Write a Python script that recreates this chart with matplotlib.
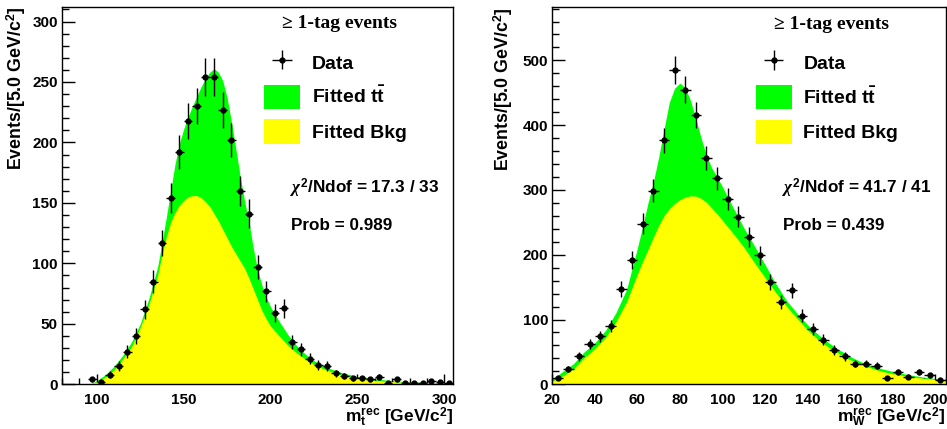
import numpy as np
import matplotlib
matplotlib.use("Agg")
import matplotlib.pyplot as plt
from matplotlib.patches import Patch
from matplotlib.ticker import MultipleLocator

plt.rcParams["font.family"] = ["Liberation Sans", "DejaVu Sans"]
plt.rcParams["font.weight"] = "bold"
plt.rcParams["mathtext.fontset"] = "custom"
plt.rcParams["mathtext.rm"] = "Liberation Sans:bold"
plt.rcParams["mathtext.bf"] = "Liberation Sans:bold"
plt.rcParams["mathtext.it"] = "Liberation Serif:italic"

# ---- top mass panel ----
mt_centers = [97.5, 102.5, 107.5, 112.5, 117.5, 122.5, 127.5, 132.5, 137.5, 142.5,
              147.5, 152.5, 157.5, 162.5, 167.5, 172.5, 177.5, 182.5, 187.5, 192.5,
              197.5, 202.5, 207.5, 212.5, 217.5, 222.5, 227.5, 232.5, 237.5, 242.5,
              247.5, 252.5, 257.5, 262.5, 267.5, 272.5, 277.5, 282.5, 287.5, 292.5,
              297.5, 302.5]
mt_counts = [4, 2, 8, 15, 27, 40, 62, 85, 117, 154,
             192, 218, 230, 254, 254, 227, 202, 160, 141, 97,
             77, 59, 63, 35, 29, 21, 16, 15, 9, 7,
             5, 5, 4, 6, 1, 4, 1, 1, 1, 3,
             2, 1]
mt_curve_x = [95, 97.5, 100, 105, 110, 115, 120, 125, 130, 135, 137.5, 140, 142.5,
              145, 147.5, 150, 152.5, 155, 157.5, 160, 162.5, 165, 167.5, 170,
              172.5, 175, 177.5, 180, 182.5, 185, 187.5, 190, 192.5, 195, 197.5,
              200, 205, 210, 215, 220, 225, 230, 235, 240, 250, 260, 270, 280,
              290, 305]
mt_total = [0, 1, 3, 8, 15, 24, 35, 50, 71, 97, 117, 138, 160,
            182, 199, 211, 221, 230, 238, 246, 253, 258, 261, 258,
            251, 237, 217, 195, 172, 152, 135, 113, 95, 82, 72,
            64, 52, 41, 32, 25, 19.5, 15.5, 12.5, 10, 6.5, 4.5, 3, 2,
            1.5, 1]
mt_bkg = [0, 1, 2, 6, 12, 21, 31, 47, 66, 90, 107, 122, 134,
          142, 148, 152, 155, 156, 156, 154.5, 151, 147, 141, 135,
          128, 121, 114, 108, 102, 96, 88, 79, 70, 61, 54,
          48, 40, 32, 26, 21, 16.5, 13, 10.5, 8, 5, 3.2, 2.2, 1.6,
          1.2, 0.8]

# ---- W mass panel ----
mw_centers = [22.5, 27.5, 32.5, 37.5, 42.5, 47.5, 52.5, 57.5, 62.5, 67.5,
              72.5, 77.5, 82.5, 87.5, 92.5, 97.5, 102.5, 107.5, 112.5, 117.5,
              122.5, 127.5, 132.5, 137.5, 142.5, 147.5, 152.5, 157.5, 162.5, 167.5,
              172.5, 177.5, 182.5, 187.5, 192.5, 197.5, 202.5]
mw_counts = [9, 24, 43, 62, 74, 90, 147, 192, 248, 299,
             377, 485, 455, 416, 349, 318, 286, 259, 227, 199,
             158, 127, 145, 106, 85, 69, 53, 43, 32, 32,
             29, 9, 19, 12, 19, 14, 7]
mw_curve_x = [20, 22.5, 25, 30, 35, 40, 45, 50, 55, 60, 62.5, 65, 67.5, 70,
              72.5, 75, 77.5, 80, 82.5, 85, 87.5, 90, 92.5, 95, 97.5, 100,
              105, 110, 115, 120, 125, 130, 135, 140, 145, 150, 155, 160,
              165, 170, 175, 180, 185, 190, 195, 200, 205]
mw_total = [8, 14, 20, 32, 50, 64, 83, 111, 147, 210, 244, 280, 312, 350,
            393, 435, 457, 465, 458, 438, 410, 380, 353, 334, 320, 305,
            273, 242, 214, 185, 156, 130, 110, 92, 77, 64, 53, 43,
            35, 29, 24, 20, 16.5, 13.5, 11, 9, 7.5]
mw_bkg = [5, 9, 13, 24, 41, 55, 72, 97, 128, 170, 190, 208, 227, 245,
          260, 271, 279, 285, 289, 291, 290.5, 287, 281, 272, 263, 253,
          233, 212, 188, 165, 142, 121, 102, 84, 69, 57, 47, 38,
          31, 25, 20, 16.5, 13.5, 11, 9, 7.5, 6.5]

GREEN = "#00ff00"
YELLOW = "#ffff00"


def draw_panel(ax, centers, counts, cx, total, bkg, xlim, ylim, xmaj, xmin,
               ymaj, ymin, xlabel, chi2, prob, ylabel_x):
    counts = np.array(counts, dtype=float)
    ax.fill_between(cx, 0, total, color=GREEN, lw=0, zorder=1)
    ax.fill_between(cx, 0, bkg, color=YELLOW, lw=0, zorder=2)
    eb = ax.errorbar(centers, counts, xerr=2.5, yerr=np.sqrt(counts), fmt="o",
                     ms=3.5, color="black", elinewidth=1, capsize=0, zorder=3)

    ax.set_xlim(*xlim)
    ax.set_ylim(*ylim)
    ax.xaxis.set_major_locator(MultipleLocator(xmaj))
    ax.xaxis.set_minor_locator(MultipleLocator(xmin))
    ax.yaxis.set_major_locator(MultipleLocator(ymaj))
    ax.yaxis.set_minor_locator(MultipleLocator(ymin))
    ax.tick_params(axis="y", which="major", direction="in", length=9, width=1,
                   labelsize=11, pad=3)
    ax.tick_params(axis="y", which="minor", direction="in", length=5, width=1)
    ax.tick_params(axis="x", which="major", direction="in", length=7, width=1,
                   labelsize=11, pad=6)
    ax.tick_params(axis="x", which="minor", direction="in", length=4, width=1)
    for lab in ax.get_xticklabels() + ax.get_yticklabels():
        lab.set_fontweight("bold")
    for sp in ax.spines.values():
        sp.set_linewidth(1)

    ax.set_ylabel(r"Events/[5.0 GeV/c$^{2}$]", fontsize=12.8, fontweight="bold",
                  loc="top")
    ax.yaxis.set_label_coords(ylabel_x, 1.0)
    ax.set_xlabel(xlabel, fontsize=12.5, fontweight="bold", loc="right")
    ax.xaxis.set_label_coords(1.0, -0.057)

    ax.text(0.71, 0.955, "\u2265 1-tag events", transform=ax.transAxes,
            family="Liberation Serif", fontweight="bold", fontsize=14,
            ha="center", va="center")
    ax.text(0.583, 0.52, r"$\chi^{2}$/Ndof = " + chi2, transform=ax.transAxes,
            fontsize=12.3, fontweight="bold", ha="left", va="center")
    ax.text(0.586, 0.42, "Prob = " + prob, transform=ax.transAxes,
            fontsize=12.3, fontweight="bold", ha="left", va="center")

    handles = [eb, Patch(color=GREEN, lw=0), Patch(color=YELLOW, lw=0)]
    labels = ["Data", r"Fitted t$\bar{\mathrm{t}}$", "Fitted Bkg"]
    ax.legend(handles, labels, loc="upper left", bbox_to_anchor=(0.517, 0.885),
              frameon=False, prop={"weight": "bold", "size": 14},
              handlelength=1.85, handleheight=1.55, labelspacing=0.52,
              handletextpad=0.6, borderpad=0, borderaxespad=0)


fig = plt.figure(figsize=(9.47, 4.29), dpi=100)
ax1 = fig.add_axes([0.0655, 0.1042, 0.4129, 0.8795])
ax2 = fig.add_axes([0.5832, 0.1042, 0.4154, 0.8788])

draw_panel(ax1, mt_centers, mt_counts, mt_curve_x, mt_total, mt_bkg,
           (80, 305), (0, 312), 50, 10, 50, 10,
           r"$\mathrm{m}_{\mathrm{t}}^{\mathrm{rec}}$ [GeV/c$^{2}$]",
           "17.3 / 33", "0.989", -0.087)
draw_panel(ax2, mw_centers, mw_counts, mw_curve_x, mw_total, mw_bkg,
           (20, 205), (0, 582), 20, 5, 100, 20,
           r"$\mathrm{m}_{\mathrm{W}}^{\mathrm{rec}}$ [GeV/c$^{2}$]",
           "41.7 / 41", "0.439", -0.095)

fig.savefig("out.png", dpi=100)
